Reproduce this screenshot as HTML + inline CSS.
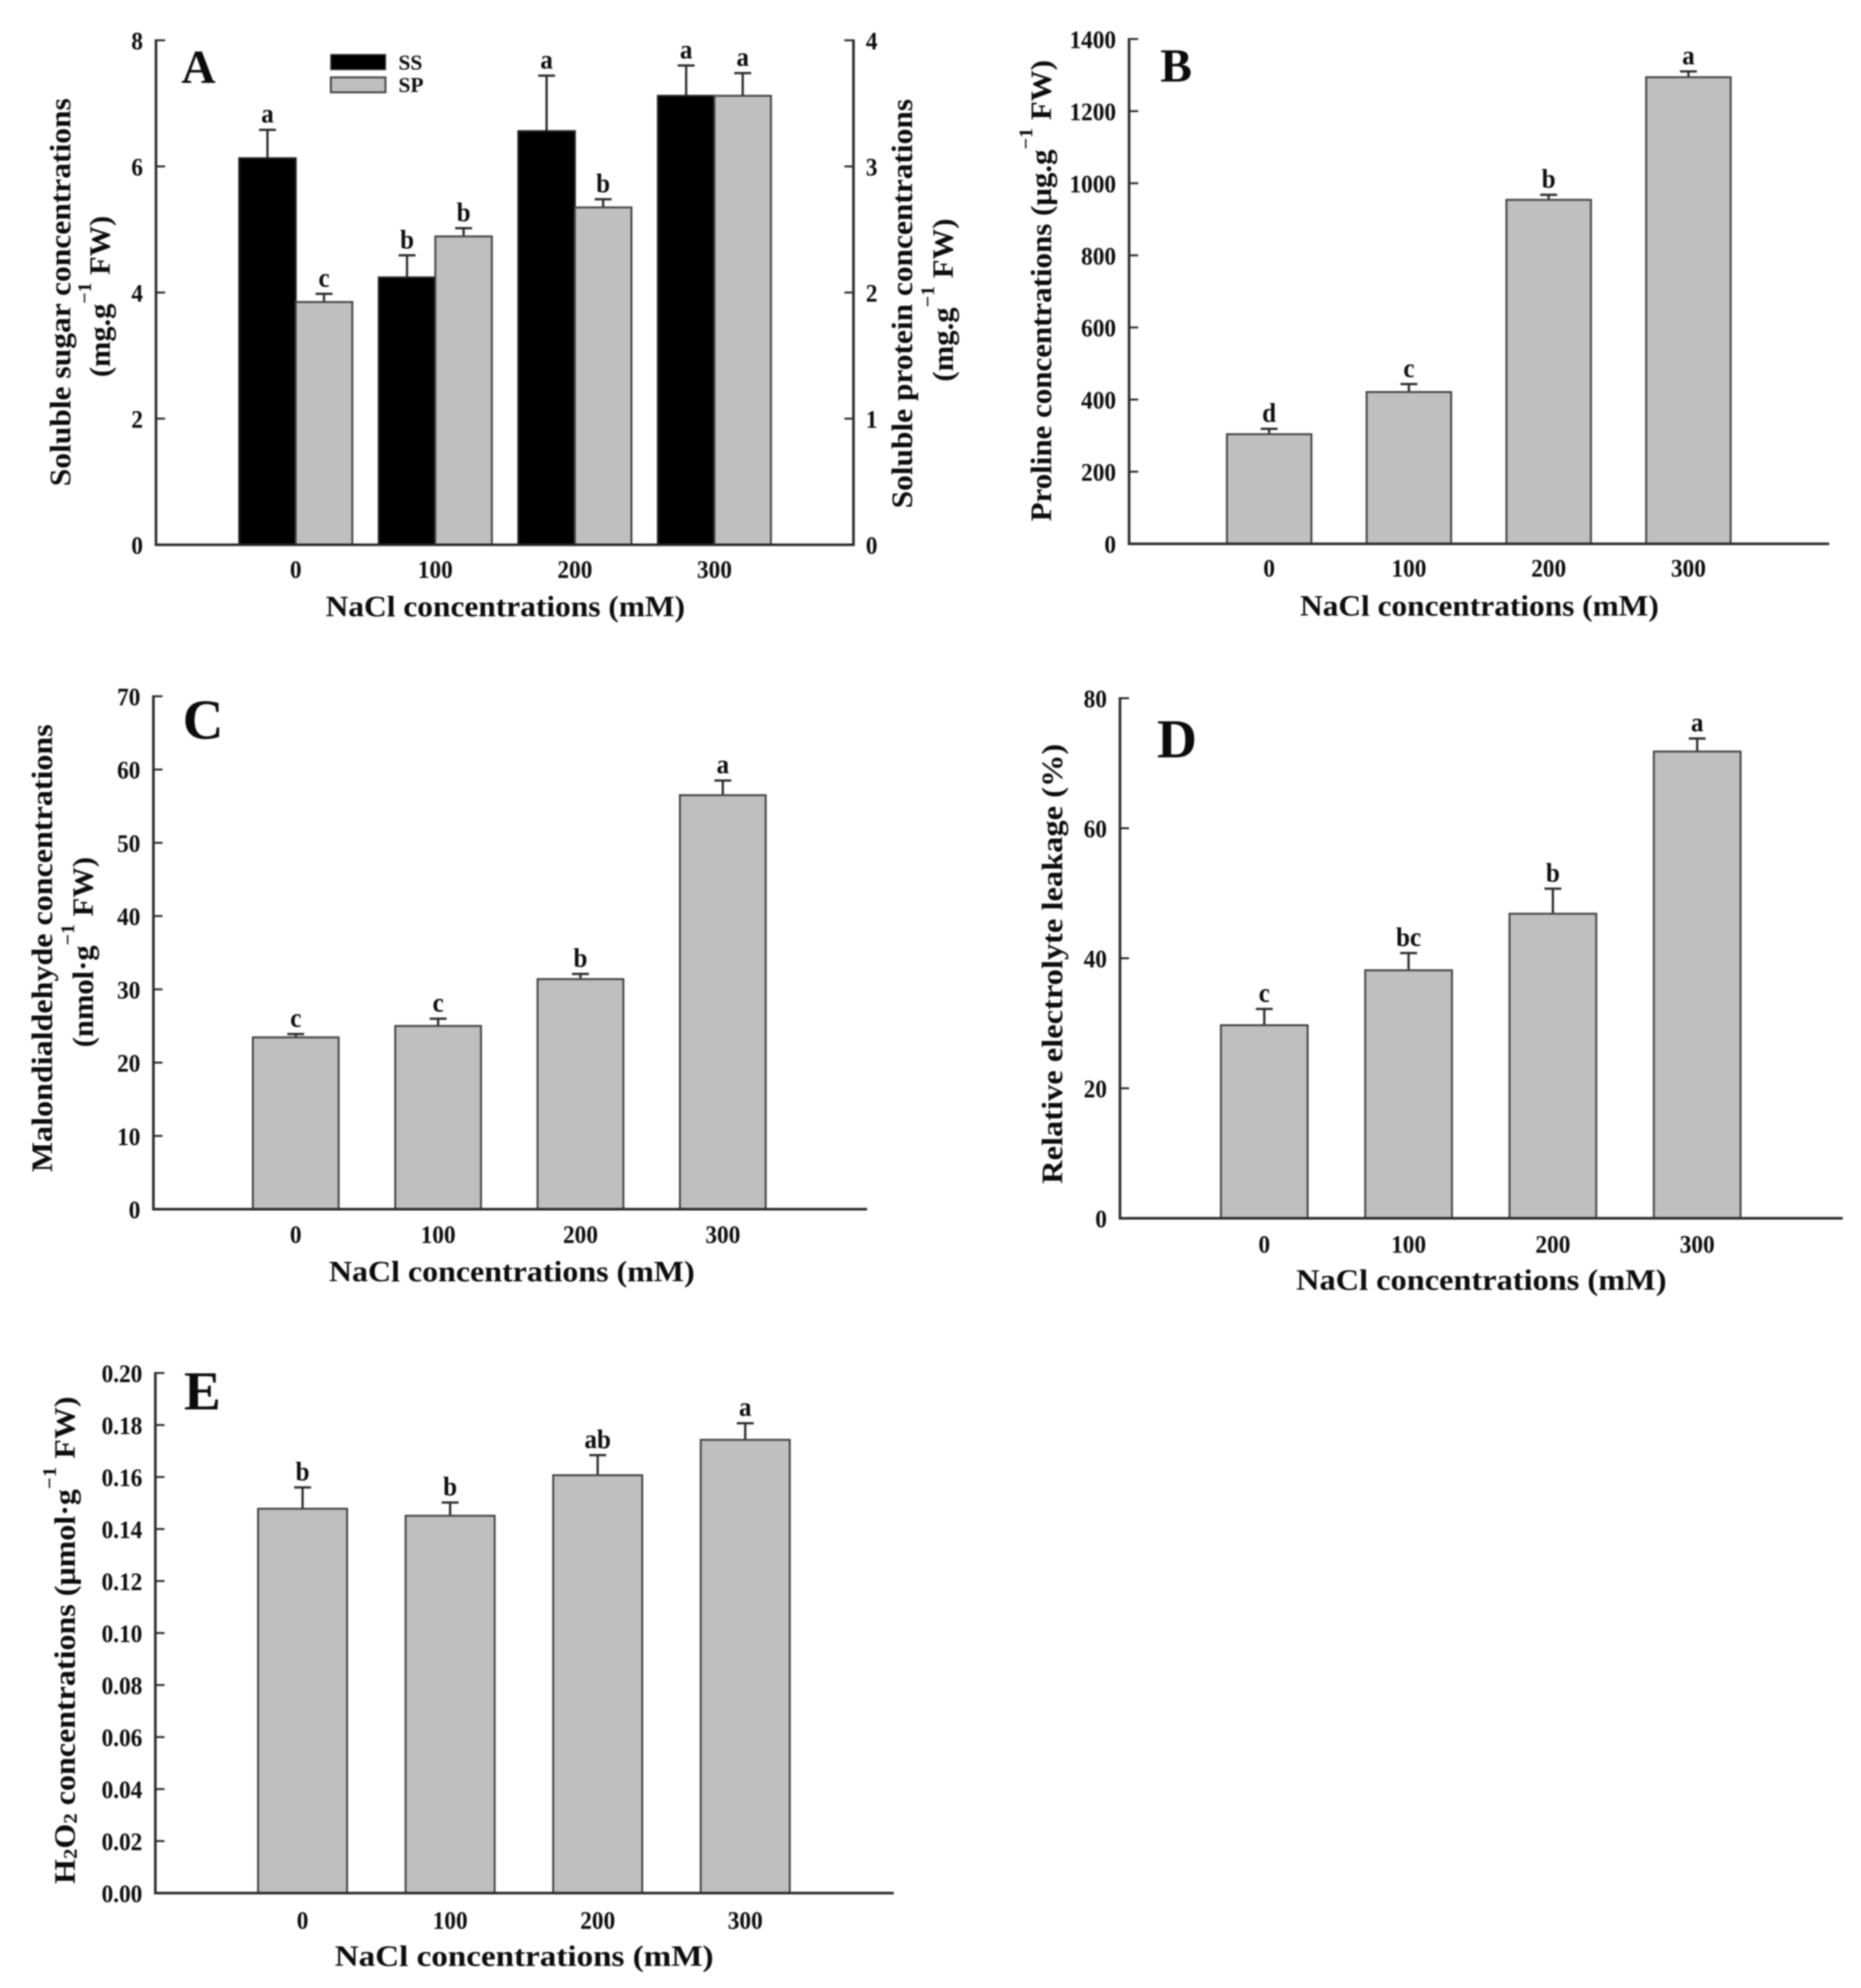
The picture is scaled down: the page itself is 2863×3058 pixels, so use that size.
<!DOCTYPE html>
<html lang="en">
<head>
<meta charset="utf-8">
<title>NaCl stress physiological responses</title>
<style>
html,body{margin:0;padding:0;background:#fff;width:2863px;height:3058px;overflow:hidden}
svg{display:block;filter:blur(1px)}
text{font-family:"Liberation Serif",serif;font-weight:bold;fill:#0c0c0c}
</style>
</head>
<body>
<svg id="figure" width="2863" height="3058" viewBox="0 0 2863 3058" xmlns="http://www.w3.org/2000/svg">
  <rect x="0" y="0" width="2863" height="3058" fill="#fff"/>

  <g id="panel-a">
    <text x="279" y="127.5" font-size="73">A</text>
    <text class="fit" data-len="597" transform="translate(108 748) rotate(-90)" font-size="46">Soluble sugar concentrations</text>
    <text class="fit" data-len="248" transform="translate(169 580) rotate(-90)" font-size="46">(mg.g<tspan font-size="30" dy="-29">−1</tspan><tspan dy="29"> FW)</tspan></text>
    <text class="fit" data-len="630" transform="translate(1403 782) rotate(-90)" font-size="46">Soluble protein concentrations</text>
    <text class="fit" data-len="251" transform="translate(1466 587) rotate(-90)" font-size="46">(mg.g<tspan font-size="30" dy="-29">−1</tspan><tspan dy="29"> FW)</tspan></text>
    <text class="fit" data-len="553" transform="translate(501 948)" font-size="45">NaCl concentrations (mM)</text>
    <rect x="509" y="84" width="84" height="23" fill="#000" stroke="#333" stroke-width="2"/>
    <rect x="509" y="119" width="84" height="23" fill="#bfbfbf" stroke="#444" stroke-width="3"/>
    <text x="613" y="107" font-size="33">SS</text>
    <text x="613" y="141.5" font-size="33">SP</text>
  </g>

  <g id="panel-b">
    <text x="1785" y="125.5" font-size="73">B</text>
    <text class="fit" data-len="710" transform="translate(1617 802) rotate(-90)" font-size="46">Proline concentrations (μg.g<tspan font-size="30" dy="-29">−1</tspan><tspan dy="29"> FW)</tspan></text>
    <text class="fit" data-len="552" transform="translate(2000 947)" font-size="45">NaCl concentrations (mM)</text>
  </g>

  <g id="panel-c">
    <text x="281" y="1136" font-size="87">C</text>
    <text class="fit" data-len="689" transform="translate(80 1803) rotate(-90)" font-size="46">Malondialdehyde concentrations</text>
    <text class="fit" data-len="293" transform="translate(143 1611) rotate(-90)" font-size="46">(nmol·g<tspan font-size="30" dy="-29">−1</tspan><tspan dy="29"> FW)</tspan></text>
    <text class="fit" data-len="563" transform="translate(506 1971)" font-size="45">NaCl concentrations (mM)</text>
  </g>

  <g id="panel-d">
    <text x="1780" y="1165" font-size="85">D</text>
    <text class="fit" data-len="677" transform="translate(1634 1821) rotate(-90)" font-size="46">Relative electrolyte leakage (%)</text>
    <text class="fit" data-len="570" transform="translate(1994 1984)" font-size="45">NaCl concentrations (mM)</text>
  </g>

  <g id="panel-e">
    <text x="283" y="2168" font-size="85">E</text>
    <text class="fit" data-len="750" transform="translate(115 2898) rotate(-90)" font-size="46">H<tspan font-size="30" dy="3">2</tspan><tspan dy="-3">O</tspan><tspan font-size="30" dy="3">2</tspan><tspan dy="-3"> concentrations (μmol·g</tspan><tspan font-size="30" dy="-29">−1</tspan><tspan dy="29"> FW)</tspan></text>
    <text class="fit" data-len="583" transform="translate(515 3024)" font-size="45">NaCl concentrations (mM)</text>
  </g>
</svg>

<script>
// ---- chart data ----
const categories = ['0', '100', '200', '300'];

const sugarValues = [6.13, 4.24, 6.56, 7.12];
const sugarErrors = [0.45, 0.35, 0.88, 0.48];
const sugarLetters = ['a', 'b', 'a', 'a'];
const proteinValues = [1.925, 2.445, 2.675, 3.56];
const proteinErrors = [0.065, 0.065, 0.065, 0.18];
const proteinLetters = ['c', 'b', 'b', 'a'];
const sugarTicks = ['0', '2', '4', '6', '8'];
const proteinTicks = ['0', '1', '2', '3', '4'];

const prolineValues = [304, 421, 954, 1294];
const prolineErrors = [15, 22, 14, 16];
const prolineLetters = ['d', 'c', 'b', 'a'];
const prolineTicks = ['0', '200', '400', '600', '800', '1000', '1200', '1400'];

const mdaValues = [23.45, 25, 31.4, 56.5];
const mdaErrors = [0.45, 1, 0.7, 2];
const mdaLetters = ['c', 'c', 'b', 'a'];
const mdaTicks = ['0', '10', '20', '30', '40', '50', '60', '70'];

const leakageValues = [29.7, 38.15, 46.85, 71.8];
const leakageErrors = [2.5, 2.65, 3.85, 2];
const leakageLetters = ['c', 'bc', 'b', 'a'];
const leakageTicks = ['0', '20', '40', '60', '80'];

const h2o2Values = [0.1478, 0.1451, 0.1607, 0.1743];
const h2o2Errors = [0.0082, 0.0051, 0.0077, 0.0064];
const h2o2Letters = ['b', 'b', 'ab', 'a'];
const h2o2Ticks = ['0.00', '0.02', '0.04', '0.06', '0.08', '0.10', '0.12', '0.14', '0.16', '0.18', '0.20'];

// ---- drawing ----
const NS = 'http://www.w3.org/2000/svg';
const AXIS = '#2a2a2a';
const OUTLINE = '#444';
const GREY = '#bfbfbf';

function make(tag, attrs, parent) {
  const el = document.createElementNS(NS, tag);
  for (const k in attrs) el.setAttribute(k, attrs[k]);
  parent.appendChild(el);
  return el;
}

function scaleY(frame, maxValue) {
  return function (v) { return frame.y0 - (v / maxValue) * (frame.y0 - frame.yTop); };
}
function scaleX(frame) {
  return function (i) { return frame.cx0 + i * frame.step; };
}

function drawYAxis(g, frame, ticks, axisX, side, name) {
  const maxValue = parseFloat(ticks[ticks.length - 1]);
  const y = scaleY(frame, maxValue);
  const line = make('line', {x1: axisX, x2: axisX, y1: frame.yTop - 1.5, y2: frame.y0 + 2, stroke: AXIS, 'stroke-width': 4}, g);
  
  
  ticks.forEach(function (t) {
    const ty = y(parseFloat(t));
    const mark = make('line', {x1: axisX, x2: axisX + (side === 'left' ? 14 : -14), y1: ty, y2: ty, stroke: AXIS, 'stroke-width': 3}, g);
    
    
    const labelX = side === 'left' ? axisX - 20 : axisX + 19;
    const label = make('text', {
      transform: 'translate(' + labelX + ' ' + (ty + 14) + ') scale(0.92,1)',
      'font-size': 39,
      'text-anchor': side === 'left' ? 'end' : 'start'
    }, g);
    label.textContent = t;
    
    
  });
}

function drawSeries(g, frame, opts) {
  const x = scaleX(frame);
  const y = scaleY(frame, opts.maxValue);
  opts.values.forEach(function (v, i) {
    const left = x(i) + opts.offset;
    const w = frame.barWidth;
    const cx = left + w / 2;
    const topY = y(v + opts.errors[i]);
    const stem = make('line', {x1: cx, x2: cx, y1: y(v), y2: topY, stroke: AXIS, 'stroke-width': 3.5}, g);
    
    
    const cap = make('line', {x1: cx - 13, x2: cx + 13, y1: topY, y2: topY, stroke: AXIS, 'stroke-width': 3.5}, g);
    
    
    const bar = make('rect', {
      x: left, y: y(v), width: w, height: frame.y0 - y(v),
      fill: opts.fill, stroke: opts.stroke, 'stroke-width': 3
    }, g);
    
    
    const letter = make('text', {
      transform: 'translate(' + cx + ' ' + (topY - 11) + ') scale(0.94,1)',
      'font-size': 41,
      'text-anchor': 'middle'
    }, g);
    letter.textContent = opts.letters[i];
    
    
  });
}

function drawXAxis(g, frame) {
  const x = scaleX(frame);
  const line = make('line', {x1: frame.axisX, x2: frame.xEnd, y1: frame.y0, y2: frame.y0, stroke: AXIS, 'stroke-width': 4}, g);
  
  
  categories.forEach(function (c, i) {
    const label = make('text', {
      transform: 'translate(' + x(i) + ' ' + frame.labelY + ') scale(0.92,1)',
      'font-size': 39,
      'text-anchor': 'middle'
    }, g);
    label.textContent = c;
    
    
  });
}

const frameA = {axisX: 240, xEnd: 1313, yTop: 62, y0: 838, cx0: 455, step: 214.7, barWidth: 87, labelY: 889};
const frameB = {axisX: 1737, xEnd: 2814, yTop: 60, y0: 836.5, cx0: 1952.5, step: 215, barWidth: 130, labelY: 887};
const frameC = {axisX: 236, xEnd: 1334, yTop: 1071, y0: 1860, cx0: 455, step: 219, barWidth: 132, labelY: 1912};
const frameD = {axisX: 1723, xEnd: 2835, yTop: 1074, y0: 1874, cx0: 1945, step: 222, barWidth: 133.5, labelY: 1927};
const frameE = {axisX: 239, xEnd: 1375, yTop: 2112, y0: 2912, cx0: 465.5, step: 227, barWidth: 137, labelY: 2967};

const gA = document.getElementById('panel-a');
drawSeries(gA, frameA, {name: 'soluble-sugar', values: sugarValues, errors: sugarErrors, letters: sugarLetters, maxValue: parseFloat(sugarTicks[sugarTicks.length - 1]), offset: -87, fill: '#000', stroke: '#222'});
drawSeries(gA, frameA, {name: 'soluble-protein', values: proteinValues, errors: proteinErrors, letters: proteinLetters, maxValue: parseFloat(proteinTicks[proteinTicks.length - 1]), offset: 0, fill: GREY, stroke: OUTLINE});
drawYAxis(gA, frameA, sugarTicks, frameA.axisX, 'left', 'y-axis-left');
drawYAxis(gA, frameA, proteinTicks, frameA.xEnd, 'right', 'y-axis-right');
drawXAxis(gA, frameA);

function singlePanel(id, frame, name, values, errors, letters, ticks) {
  const g = document.getElementById(id);
  drawSeries(g, frame, {name: name, values: values, errors: errors, letters: letters, maxValue: parseFloat(ticks[ticks.length - 1]), offset: -frame.barWidth / 2, fill: GREY, stroke: OUTLINE});
  drawYAxis(g, frame, ticks, frame.axisX, 'left', 'y-axis');
  drawXAxis(g, frame);
}
singlePanel('panel-b', frameB, 'proline', prolineValues, prolineErrors, prolineLetters, prolineTicks);
singlePanel('panel-c', frameC, 'malondialdehyde', mdaValues, mdaErrors, mdaLetters, mdaTicks);
singlePanel('panel-d', frameD, 'electrolyte-leakage', leakageValues, leakageErrors, leakageLetters, leakageTicks);
singlePanel('panel-e', frameE, 'hydrogen-peroxide', h2o2Values, h2o2Errors, h2o2Letters, h2o2Ticks);

// Fit axis titles to their measured lengths in the figure
document.querySelectorAll('text.fit').forEach(function (t) {
  const target = parseFloat(t.getAttribute('data-len'));
  const natural = t.getComputedTextLength();
  if (natural > 0) {
    t.setAttribute('transform', t.getAttribute('transform') + ' scale(' + (target / natural).toFixed(4) + ',1)');
  }
});
</script>
</body>
</html>
